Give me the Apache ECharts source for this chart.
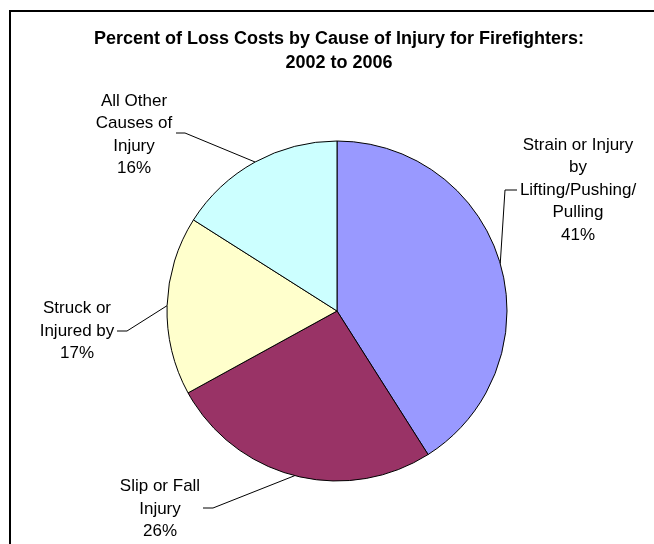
<!DOCTYPE html>
<html>
<head>
<meta charset="utf-8">
<script src="https://cdn.jsdelivr.net/npm/echarts@6/dist/echarts.min.js"></script>
<style>
  html, body { margin: 0; padding: 0; background: #fff; }
  #chart { width: 654px; height: 544px; }
</style>
</head>
<body>
<div id="chart"></div>
<script>
// Cause-of-injury categories (line breaks mark label wrapping)
const categories = [
  'Strain or Injury\nby\nLifting/Pushing/\nPulling',
  'Slip or Fall\nInjury',
  'Struck or\nInjured by',
  'All Other\nCauses of\nInjury'
];
// Share of loss costs, percent
const shares = [41, 26, 17, 16];
const sliceColors = ['#9999FF', '#993366', '#FFFFCC', '#CCFFFF'];

const titleLines = [
  'Percent of Loss Costs by Cause of Injury for Firefighters:',
  '2002 to 2006'
];

// Where each slice label sits and how its leader line bends
const labelPlacement = [
  { x: 578, y: 190, elbow: [505, 190], end: [517, 190] },
  { x: 160, y: 509, elbow: [213, 508], end: [203, 508] },
  { x: 77,  y: 331, elbow: [127, 331], end: [117, 331] },
  { x: 134, y: 135, elbow: [185, 133], end: [176, 133] }
];

const FONT = '"Liberation Sans", Arial, sans-serif';

const chart = echarts.init(document.getElementById('chart'), null, { renderer: 'canvas' });

chart.setOption({
  backgroundColor: '#ffffff',
  animation: false,
  title: {
    text: titleLines.join('\n'),
    left: 339,
    top: 27,
    padding: 0,
    textAlign: 'center',
    textStyle: {
      fontFamily: FONT,
      fontSize: 18,
      fontWeight: 'bold',
      color: '#000',
      lineHeight: 24
    }
  },
  graphic: [{
    type: 'rect',
    shape: { x: 10, y: 11, width: 700, height: 600 },
    style: { fill: 'none', stroke: '#000', lineWidth: 2 },
    silent: true,
    z: 100
  }],
  series: [{
    type: 'pie',
    center: [337, 311],
    radius: 170,
    startAngle: 90,
    clockwise: true,
    avoidLabelOverlap: false,
    data: categories.map((name, i) => ({
      name: name,
      value: shares[i],
      itemStyle: { color: sliceColors[i] }
    })),
    itemStyle: { borderColor: '#000', borderWidth: 1 },
    label: {
      show: true,
      position: 'outside',
      formatter: '{b}\n{c}%',
      fontFamily: FONT,
      fontSize: 17,
      lineHeight: 22.5,
      color: '#000',
      align: 'center'
    },
    labelLine: {
      show: true,
      length: 10,
      length2: 10,
      smooth: false,
      lineStyle: { color: '#000', width: 1 }
    },
    labelLayout: function (params) {
      const p = labelPlacement[params.dataIndex];
      const out = { x: p.x, y: p.y, align: 'center', verticalAlign: 'middle' };
      if (params.labelLinePoints && params.labelLinePoints.length) {
        out.labelLinePoints = [params.labelLinePoints[0], p.elbow, p.end];
      }
      return out;
    },
    emphasis: { disabled: true }
  }]
});
</script>
</body>
</html>
